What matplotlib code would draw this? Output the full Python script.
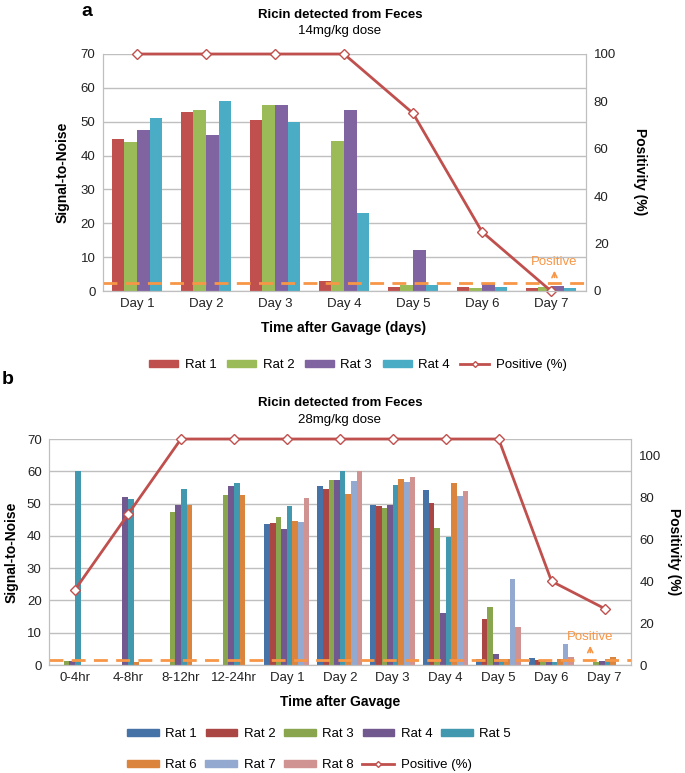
import matplotlib
matplotlib.use('Agg')
import matplotlib.pyplot as plt
import numpy as np
from matplotlib.patches import Patch
from matplotlib.lines import Line2D

plt.rcParams['font.family'] = ['Liberation Sans', 'DejaVu Sans']
plt.rcParams['font.size'] = 9

# ---------------- Panel a data ----------------
days_a = ['Day 1', 'Day 2', 'Day 3', 'Day 4', 'Day 5', 'Day 6', 'Day 7']
rat1_a = [45.0, 53.0, 50.4, 3.0, 1.1, 1.1, 0.9]
rat2_a = [43.9, 53.5, 55.0, 44.4, 1.9, 1.0, 1.1]
rat3_a = [47.7, 46.0, 54.8, 53.5, 12.1, 2.3, 1.5]
rat4_a = [51.0, 56.0, 50.0, 22.9, 1.9, 1.1, 0.9]
positive_a = [100, 100, 100, 100, 75, 25, 0]
threshold_a = 2.3

# ---------------- Panel b data ----------------
times_b = ['0-4hr', '4-8hr', '8-12hr', '12-24hr', 'Day 1', 'Day 2', 'Day 3',
           'Day 4', 'Day 5', 'Day 6', 'Day 7']
rat1_b = [0, 0, 0, 0, 43.6, 55.3, 49.5, 54.2, 2.0, 2.1, 0]
rat2_b = [0, 0, 0, 0, 44.1, 54.6, 49.3, 50.2, 14.4, 1.7, 0]
rat3_b = [1.3, 0, 47.3, 52.7, 45.7, 57.3, 48.7, 42.5, 17.9, 1.2, 0.9]
rat4_b = [1.1, 52.0, 49.7, 55.3, 42.1, 57.3, 49.5, 16.0, 3.3, 0.8, 1.3]
rat5_b = [60.0, 51.5, 54.6, 56.4, 49.3, 60.0, 55.9, 39.7, 1.9, 0.8, 1.9]
rat6_b = [0, 1.0, 49.5, 52.7, 44.6, 53.0, 57.6, 56.4, 1.9, 1.8, 2.5]
rat7_b = [0, 0, 0, 0, 44.3, 57.1, 56.7, 52.3, 26.7, 6.6, 0]
rat8_b = [0, 0, 0, 0, 51.6, 60.2, 58.2, 53.8, 11.9, 2.5, 0]
positive_b = [36, 72, 108, 108, 108, 108, 108, 108, 108, 40, 27]
threshold_b = 1.5

cols_a = ['#C0504D', '#9BBB59', '#8064A2', '#4BACC6']
cols_b = ['#4572A7', '#AA4643', '#89A54E', '#71588F', '#4198AF',
          '#DB843D', '#93A9CF', '#D19392']
line_col = '#C0504D'
thr_col = '#F79646'
grid_col = '#BFBFBF'

W, H = 685, 773
fig = plt.figure(figsize=(W / 100, H / 100), dpi=100)


def fax(l, t, r, b):
    return fig.add_axes([l / W, 1 - b / H, (r - l) / W, (b - t) / H])


def style(ax, ax2):
    ax.yaxis.grid(True, color=grid_col, lw=1)
    ax.set_axisbelow(True)
    ax.spines['top'].set_visible(False)
    ax2.spines['top'].set_visible(False)
    for s in ['left', 'bottom', 'right']:
        ax.spines[s].set_color(grid_col)
        ax2.spines[s].set_color(grid_col)
    ax.tick_params(length=0, labelsize=9.5, colors='#222222', pad=5)
    ax2.tick_params(length=0, labelsize=9.5, colors='#222222', pad=6)


dash = (0, (5, 3))

# ---------------- Panel a ----------------
ax = fax(102.5, 54, 585.5, 291)
x = np.arange(len(days_a))
wa = 0.183
series_a = [rat1_a, rat2_a, rat3_a, rat4_a]
for i, (vals, c) in enumerate(zip(series_a, cols_a)):
    ax.bar(x + (i - 1.5) * wa, vals, wa, color=c, edgecolor='none')
ax.set_xlim(-0.5, len(days_a) - 0.5)
ax.set_ylim(0, 70)
ax.set_yticks(range(0, 71, 10))
ax.set_xticks(x)
ax.set_xticklabels(days_a)
ax.axhline(threshold_a, color=thr_col, lw=2, ls=dash, zorder=3)
ax.text(6.05, 8.6, 'Positive', color=thr_col, ha='center', va='center', fontsize=9.5)
ax.annotate('', xy=(6.05, 6.8), xytext=(6.05, 3.2),
            arrowprops=dict(arrowstyle='->', color=thr_col, lw=1.2))
ax.set_ylabel('Signal-to-Noise', fontweight='bold', fontsize=10, labelpad=8)
ax.set_xlabel('Time after Gavage (days)', fontweight='bold', fontsize=10, labelpad=8)
ax2 = ax.twinx()
ax2.plot(x, positive_a, color=line_col, lw=2, marker='D', ms=5,
         mfc='white', mec=line_col, mew=1, clip_on=False)
ax2.set_ylim(0, 100)
ax2.set_yticks(range(0, 101, 20))
style(ax, ax2)
fig.text(640 / W, 1 - 172 / H, 'Positivity (%)', fontweight='bold', fontsize=10,
         rotation=270, ha='center', va='center')

fig.text(87 / W, 1 - 12 / H, 'a', fontsize=14, fontweight='bold', ha='center', va='center')
fig.text(340 / W, 1 - 15 / H, 'Ricin detected from Feces', fontsize=9.5, fontweight='bold',
         ha='center', va='center')
fig.text(340 / W, 1 - 31 / H, '14mg/kg dose', fontsize=9.5, ha='center', va='center')

hand_a = [Patch(color=c) for c in cols_a] + [
    Line2D([], [], color=line_col, lw=2, marker='D', ms=3, mfc='white', mec=line_col)]
lab_a = ['Rat 1', 'Rat 2', 'Rat 3', 'Rat 4', 'Positive (%)']
fig.legend(hand_a, lab_a, loc='center', bbox_to_anchor=(358 / W, 1 - 365 / H), ncol=5,
           frameon=False, fontsize=9.5, handlelength=2.2, handleheight=0.5,
           handletextpad=0.5, columnspacing=0.8)

# ---------------- Panel b ----------------
bx = fax(48.6, 439, 631, 665)
xb = np.arange(len(times_b))
wb = 0.106
series_b = [rat1_b, rat2_b, rat3_b, rat4_b, rat5_b, rat6_b, rat7_b, rat8_b]
for i, (vals, c) in enumerate(zip(series_b, cols_b)):
    bx.bar(xb + (i - 3.5) * wb, vals, wb, color=c, edgecolor='none')
bx.set_xlim(-0.5, len(times_b) - 0.5)
bx.set_ylim(0, 70)
bx.set_yticks(range(0, 71, 10))
bx.set_xticks(xb)
bx.set_xticklabels(times_b)
bx.axhline(threshold_b, color=thr_col, lw=2, ls=dash, zorder=3)
bx.text(9.73, 8.7, 'Positive', color=thr_col, ha='center', va='center', fontsize=9.5)
bx.annotate('', xy=(9.73, 6.8), xytext=(9.73, 3.0),
            arrowprops=dict(arrowstyle='->', color=thr_col, lw=1.2))
bx.set_ylabel('Signal-to-Noise', fontweight='bold', fontsize=10, labelpad=6)
bx.set_xlabel('Time after Gavage', fontweight='bold', fontsize=10, labelpad=8)
bx2 = bx.twinx()
bx2.plot(xb, positive_b, color=line_col, lw=2, marker='D', ms=5,
         mfc='white', mec=line_col, mew=1, clip_on=False)
bx2.set_ylim(0, 108)
bx2.set_yticks(range(0, 101, 20))
style(bx, bx2)
fig.text(674 / W, 1 - 552 / H, 'Positivity (%)', fontweight='bold', fontsize=10,
         rotation=270, ha='center', va='center')

fig.text(8 / W, 1 - 380 / H, 'b', fontsize=14, fontweight='bold', ha='center', va='center')
fig.text(340 / W, 1 - 403 / H, 'Ricin detected from Feces', fontsize=9.5, fontweight='bold',
         ha='center', va='center')
fig.text(340 / W, 1 - 420 / H, '28mg/kg dose', fontsize=9.5, ha='center', va='center')

hb = [Patch(color=c) for c in cols_b]
lb = ['Rat %d' % (i + 1) for i in range(8)]
pos_h = Line2D([], [], color=line_col, lw=2, marker='D', ms=3, mfc='white', mec=line_col)
leg_kw = dict(frameon=False, fontsize=9.5, handlelength=2.4, handleheight=0.5,
              handletextpad=0.5, columnspacing=0.65, borderpad=0, borderaxespad=0)
fig.legend(hb[:5], lb[:5], loc='center left', bbox_to_anchor=(127 / W, 1 - 734 / H),
           ncol=5, **leg_kw)
fig.legend(hb[5:] + [pos_h], lb[5:] + ['Positive (%)'], loc='center left',
           bbox_to_anchor=(127 / W, 1 - 765 / H), ncol=4, **leg_kw)

fig.savefig('out.png', dpi=100)
